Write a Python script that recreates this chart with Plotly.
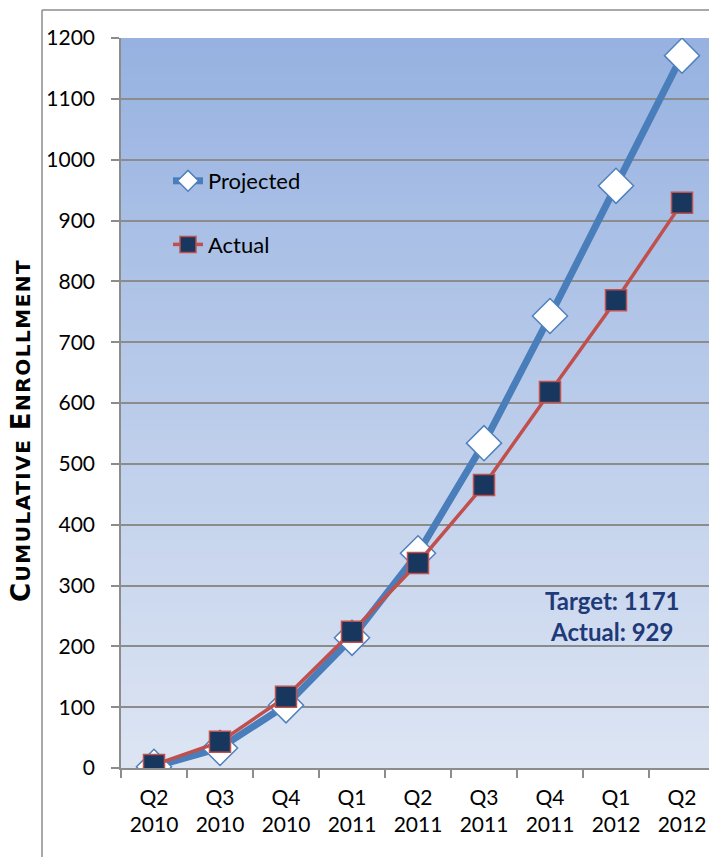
import plotly.graph_objects as go

quarters = ["Q2<br>2010", "Q3<br>2010", "Q4<br>2010", "Q1<br>2011", "Q2<br>2011",
            "Q3<br>2011", "Q4<br>2011", "Q1<br>2012", "Q2<br>2012"]
projected = [2, 33, 103, 214, 353, 534, 743, 957, 1171]
actual = [5, 43, 117, 224, 337, 465, 618, 769, 929]
y_ticks = list(range(0, 1201, 100))

W, H = 709, 857
ML, MR, MT, MB = 121, 0, 38, 89
PW = W - ML - MR
PH = H - MT - MB

def px(x):  # reference x pixel -> paper
    return (x - 121) / PW

def py(y):  # reference y pixel -> paper
    return (768 - y) / PH

fig = go.Figure()

top = (151, 178, 225)
bot = (221, 229, 243)
N = 80
shapes = []
for i in range(N):
    t = i / (N - 1)
    c = tuple(round(top[k] + (bot[k] - top[k]) * t) for k in range(3))
    shapes.append(dict(type="rect", xref="paper", yref="paper", layer="below",
                       x0=0, x1=1, y0=max(0, 1 - (i + 1) / N - 0.004), y1=1 - i / N,
                       fillcolor="rgb(%d,%d,%d)" % c, line=dict(width=0)))
shapes.append(dict(type="line", xref="paper", yref="paper", x0=px(42), x1=px(42),
                   y0=py(10), y1=-1, line=dict(color="#8c8c8c", width=1.5)))
shapes.append(dict(type="line", xref="paper", yref="paper", x0=px(42), x1=1.2,
                   y0=py(10), y1=py(10), line=dict(color="#8c8c8c", width=1.5)))

fig.add_trace(go.Scatter(
    x=quarters, y=projected, name="Projected", mode="lines+markers",
    line=dict(color="#4A7EBB", width=7),
    marker=dict(symbol="diamond", size=27, color="white",
                line=dict(color="#4F81BD", width=1.5)),
    legendgroup="a"))
fig.add_trace(go.Scatter(
    x=quarters, y=actual, name="Actual", mode="lines+markers",
    line=dict(color="#C0504D", width=3.5),
    marker=dict(symbol="square", size=21, color="#17375E",
                line=dict(color="#C0504D", width=1.5)),
    legendgroup="b"))

font = "Lato, 'Noto Sans', sans-serif"

fig.update_layout(
    width=W, height=H,
    margin=dict(l=ML, r=MR, t=MT, b=MB),
    paper_bgcolor="white", plot_bgcolor="rgba(0,0,0,0)",
    shapes=shapes,
    showlegend=True,
    legend=dict(x=px(168), y=py(160), xanchor="left", yanchor="top",
                bgcolor="rgba(0,0,0,0)", font=dict(family=font, size=22, color="black"),
                tracegroupgap=32, traceorder="grouped", itemwidth=30),
    font=dict(family=font, size=21, color="black"),
    xaxis=dict(type="category", range=[-0.5, 8.5], tickson="boundaries",
               ticks="outside", ticklen=8, tickcolor="#8c8c8c", tickwidth=1.5,
               showline=True, linecolor="#8c8c8c", linewidth=1.5,
               showgrid=False, tickfont=dict(family=font, size=21),
               ticklabelstandoff=10),
    yaxis=dict(range=[0, 1200], tickvals=y_ticks, ticks="outside", ticklen=8,
               tickcolor="#8c8c8c", tickwidth=1.5, showline=True,
               linecolor="#8c8c8c", linewidth=1.5, showgrid=True,
               gridcolor="#8c8c8c", gridwidth=1.5, zeroline=False,
               tickfont=dict(family=font, size=21), ticklabelstandoff=12),
    annotations=[
        dict(text="<b>Target: 1171<br>Actual: 929</b>", xref="paper", yref="paper",
             x=px(612), y=py(616), xanchor="center", yanchor="middle", showarrow=False,
             font=dict(family=font, size=24, color="#1F3A78"), align="center"),
        dict(text="<b><span style='letter-spacing:1.5px'><span style='font-size:26px'>C</span>UMULATIVE <span style='font-size:26px'>E</span>NROLLMENT</span></b>",
             xref="paper", yref="paper", x=px(21), y=py(431),
             xanchor="center", yanchor="middle",
             textangle=-90, showarrow=False,
             font=dict(family="'DejaVu Sans', sans-serif", size=20, color="black")),
    ],
)

# the plot area runs past the right page edge: keep the range so that Q2 2012 sits at x=681
fig.update_xaxes(range=[-0.5, -0.5 + PW / 66.0])

fig.write_html("out.html", config={"displayModeBar": False},
               post_script="document.body.style.margin='0';document.body.style.overflow='hidden';")
